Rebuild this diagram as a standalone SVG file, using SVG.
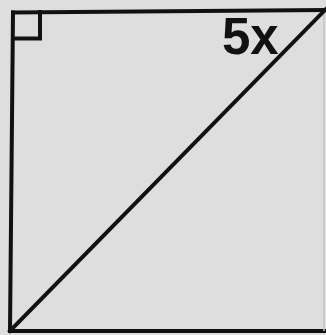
<svg xmlns="http://www.w3.org/2000/svg" width="326" height="335" viewBox="0 0 326 335">
<style>
.ln{stroke:#111;stroke-width:4;fill:none;stroke-linecap:square}
.lbl{font-family:"Liberation Sans",Arial,sans-serif;font-weight:bold;font-size:51px;fill:#111}
</style>
<rect width="326" height="335" fill="#dedede"/>
<g id="square">
<line class="ln" x1="13" y1="12.5" x2="326" y2="10"/>
<line class="ln" x1="13" y1="12.5" x2="10" y2="331"/>
<line class="ln" x1="10" y1="331" x2="326" y2="331"/>
<line x1="324" y1="10" x2="324" y2="331" stroke="#c4c4c4" stroke-width="1.5"/>
</g>
<g id="right-angle">
<polyline class="ln" points="13,38.5 40,38.5 40,12"/>
</g>
<g id="diagonal">
<line class="ln" x1="10" y1="331" x2="326" y2="9"/>
</g>
<g id="label">
<text class="lbl" x="222" y="54">5x</text>
</g>
</svg>
